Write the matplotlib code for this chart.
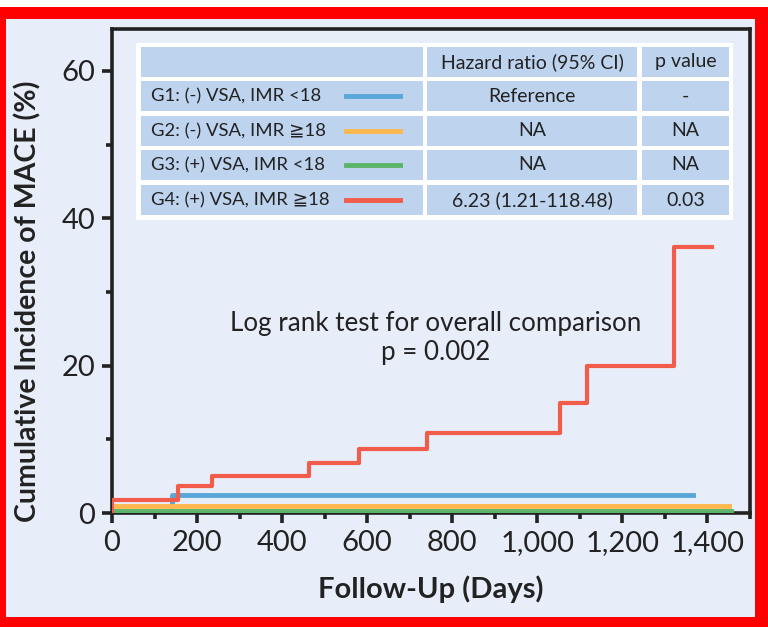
import matplotlib.pyplot as plt
from matplotlib.patches import Rectangle
from matplotlib.lines import Line2D
from matplotlib.ticker import MultipleLocator, FuncFormatter

plt.rcParams['font.family'] = ['Lato', 'DejaVu Sans']

# data
g1_days = [0, 140, 1367]
g1_inc = [0, 2.4, 2.4]
g2_days = [0, 1450]
g2_inc = [1.0, 1.0]
g3_days = [0, 1455]
g3_inc = [0.3, 0.3]
g4_days = [0, 155, 234, 464, 580, 740, 1054, 1117, 1321, 1410]
g4_inc = [1.8, 3.6, 5.0, 6.8, 8.7, 10.9, 14.9, 19.9, 36.1, 36.1]

group_labels = ["G1: (-) VSA, IMR <18", "G2: (-) VSA, IMR \u226718",
                "G3: (+) VSA, IMR <18", "G4: (+) VSA, IMR \u226718"]
hazard_ratios = ["Reference", "NA", "NA", "6.23 (1.21-118.48)"]
p_values = ["-", "NA", "NA", "0.03"]
header = ["", "Hazard ratio (95% CI)", "p value"]

colors = ["#5aa6d8", "#fdb850", "#5cb46a", "#f25c4b"]
bg = "#e8eef9"
cell = "#bdd3ee"
dark = "#222222"

W, H = 768, 627
fig = plt.figure(figsize=(W / 100, H / 100), dpi=100)
fig.patch.set_facecolor("white")

def px(x, y):
    # pixel (from top-left) -> figure fraction
    return x / W, 1 - y / H

# red frame and light background
fig.add_artist(Rectangle((0, 0), 1, 1 - 7 / H, transform=fig.transFigure,
                         facecolor="#ff0000", edgecolor="none", zorder=-10))
x0, y0 = px(6, 617)
x1, y1 = px(755, 19)
fig.add_artist(Rectangle((x0, y0), x1 - x0, y1 - y0, transform=fig.transFigure,
                         facecolor=bg, edgecolor="none", zorder=-9))

l, b = px(112, 513)
r, t = px(750, 29)
ax = fig.add_axes([l, b, r - l, t - b])
ax.set_facecolor(bg)

ax.step(g1_days, g1_inc, where="post", color=colors[0], lw=3.5, zorder=3)
ax.step(g2_days, g2_inc, where="post", color=colors[1], lw=3.5, zorder=3)
ax.step(g3_days, g3_inc, where="post", color=colors[2], lw=3.5, zorder=4)
ax.step([0] + g4_days, [0] + g4_inc, where="post", color=colors[3], lw=3, zorder=5)

ax.set_xlim(0, 1500)
ax.set_ylim(0, 65.7)
ax.xaxis.set_major_locator(MultipleLocator(200))
ax.xaxis.set_minor_locator(MultipleLocator(100))
ax.yaxis.set_major_locator(MultipleLocator(20))
ax.yaxis.set_minor_locator(MultipleLocator(10))
ax.xaxis.set_major_formatter(FuncFormatter(lambda v, p: f"{int(v):,}"))

for s in ax.spines.values():
    s.set_linewidth(2.6)
    s.set_color(dark)
ax.tick_params(which="major", length=7, width=2.6, color=dark, labelsize=21,
               labelcolor=dark, pad=5)
ax.tick_params(which="minor", length=4, width=2.6, color=dark)

ax.set_xlabel("Follow-Up (Days)", fontsize=21, fontweight="bold", color=dark)
ax.set_ylabel("Cumulative Incidence of MACE (%)", fontsize=20.5, fontweight="bold", color=dark)
ax.xaxis.set_label_coords(0.5, -0.128)
ax.yaxis.set_label_coords(-0.111, 0.438)

ax.text(760, 23.7, "Log rank test for overall comparison\np = 0.002", ha="center",
        va="center", fontsize=18.7, color=dark, linespacing=1.2)

# table in the upper part of the plot
px0, py0 = px(136, 220)
px1, py1 = px(733, 43)
fig.add_artist(Rectangle((px0, py0), px1 - px0, py1 - py0, transform=fig.transFigure,
                         facecolor="white", edgecolor="none", zorder=10))
col_edges = [(141, 423), (427, 637), (642, 729)]
row_edges = [(47, 77), (81, 111), (116, 146), (150, 180), (185, 215)]

rows = [header] + [[g, h, p] for g, h, p in zip(group_labels, hazard_ratios, p_values)]
for i, (ya, yb) in enumerate(row_edges):
    for j, (xa, xb) in enumerate(col_edges):
        fx0, fy0 = px(xa, yb)
        fx1, fy1 = px(xb, ya)
        fig.add_artist(Rectangle((fx0, fy0), fx1 - fx0, fy1 - fy0,
                                 transform=fig.transFigure, facecolor=cell,
                                 edgecolor="none", zorder=11))
        txt = rows[i][j]
        if not txt:
            continue
        ym = (ya + yb) / 2
        if j == 0:
            fig.text(*px(151, ym), txt, ha="left", va="center", fontsize=13.3,
                     color=dark, zorder=12)
        else:
            fig.text(*px((xa + xb) / 2, ym), txt, ha="center", va="center",
                     fontsize=14, color=dark, zorder=12)
    if i > 0:
        lx0, ly = px(346, (ya + yb) / 2)
        lx1, _ = px(400, 0)
        fig.add_artist(Line2D([lx0, lx1], [ly, ly], transform=fig.transFigure,
                              color=colors[i - 1], lw=3.5, zorder=12))

fig.savefig("out.png", dpi=100)
